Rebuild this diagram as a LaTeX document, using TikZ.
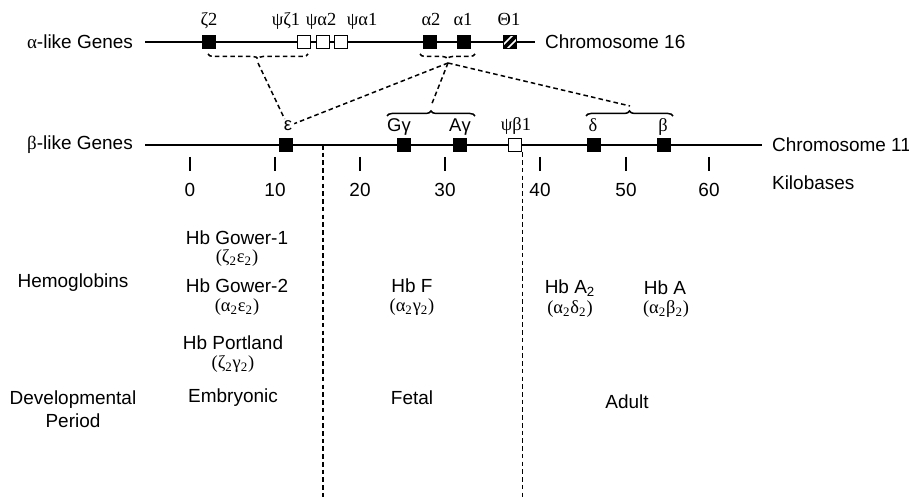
\documentclass[tikz,border=0pt]{standalone}
\usepackage{fontspec}
\setmainfont{Liberation Sans}
\newfontfamily\grk{Liberation Serif}
\usetikzlibrary{calc,decorations.pathreplacing}

\tikzset{
  chrom/.style={line width=1pt},
  genebox/.style={draw,line width=0.7pt,fill=black,minimum size=0.27cm,inner sep=0pt},
  pseudobox/.style={genebox,fill=white},
  genelabel/.style={anchor=base,inner sep=1pt,font=\grk\fontsize{10.5}{12}\selectfont},
  plain/.style={inner sep=1pt,font=\fontsize{10.8}{13}\selectfont},
  formula/.style={inner sep=1pt,font=\grk\fontsize{10.5}{12}\selectfont},
  link/.style={line width=0.85pt,dash pattern=on 2.6pt off 1.8pt},
  bracebelow/.style={link,decorate,decoration={brace,mirror,amplitude=0.1cm}},
  braceabove/.style={line width=0.85pt,decorate,decoration={brace,amplitude=0.1cm}}
}

\begin{document}
\begin{tikzpicture}[x=0.02cm,y=-0.02cm]
    \useasboundingbox (0,0) rectangle (909,499);

    % Cromosoma 16
    \node[plain] (alab) at (80,42) {{\grk α}-like Genes};
    \draw[chrom] (145,42) -- (535,42);
    \node[plain,anchor=west] (c16) at (543,42) {Chromosome 16};
    \foreach \n/\x/\s in {z2/209/genebox, pz1/304/pseudobox, pa2/323/pseudobox,
        pa1/341/pseudobox, a2/430/genebox, a1/464/genebox}{
      \node[\s] (\n) at (\x,42) {};
    }
    \node[genebox,path picture={
        \foreach \s in {-4,4}
          \draw[white,line width=1pt] ($(path picture bounding box.center)+(\s-9,9)$)
            -- ($(path picture bounding box.center)+(\s+9,-9)$);
      }] (t1) at (510,42) {};
    \foreach \n/\x/\t in {z2/209/ζ2, pz1/286/ψζ1, pa2/321/ψα2, pa1/362/ψα1,
        a2/431/α2, a1/463/α1, t1/509/Θ1}{
      \node[genelabel] (l\n) at (\x,26) {\t};
    }

    % Cromosoma 11
    \node[plain] (blab) at (80,145) {{\grk β}-like Genes};
    \draw[chrom] (145,145) -- (762,145);
    \node[plain,anchor=west] (c11) at (770,145) {Chromosome 11};
    \foreach \n/\x/\s in {eps/286/genebox, gg/404/genebox, ag/460/genebox,
        pb1/515/pseudobox, d/594/genebox, b/664/genebox}{
      \node[\s] (\n) at (\x,145) {};
    }
    \node[genelabel,font=\fontsize{10.5}{12}\selectfont] (leps) at (288,131) {ε};
    \node[genelabel,font=\fontsize{10.5}{12}\selectfont] (lgg) at (399,132) {Gγ};
    \node[genelabel,font=\fontsize{10.5}{12}\selectfont] (lag) at (460,132) {Aγ};
    \node[genelabel] (lpb1) at (516,131) {ψβ1};
    \node[genelabel] (ld) at (593,132) {δ};
    \node[genelabel] (lb) at (663,132) {β};

    % escala en kb
    \foreach \x/\k in {190/0,275/10,360/20,445/30,540/40,626/50,709/60}{
      \draw[line width=1pt] (\x,157) -- (\x,171);
      \node[plain] (kb\k) at (\x,190) {\k};
    }
    \node[plain,anchor=west] (kil) at (770,183) {Kilobases};

    % llaves y enlaces
    \draw[bracebelow] (208,54) -- (308,54);
    \coordinate (ztip) at (258,63);
    \draw[bracebelow] (420,54) -- (475,54);
    \coordinate (atip) at (448,63);
    \draw[braceabove] (387,116) -- (475,116);
    \coordinate (gtip) at (431,106);
    \draw[braceabove] (586,116) -- (673,116);
    \coordinate (dtip) at (630,106);

    \draw[link] (ztip) -- (leps);
    \draw[link] (atip) -- (leps);
    \draw[link] (atip) -- (gtip);
    \draw[link] (atip) -- (dtip);

    \coordinate (split) at (323,145);
    \coordinate (bot) at (323,499);
    \draw[link] (split) -- (bot);
    \draw[link] (pb1.south east) -- (pb1.south east |- bot);

    % hemoglobinas
    \node[plain] (hemo) at (73,283) {Hemoglobins};
    \node[plain] (gow1) at (237,238) {Hb Gower-1};
    \node[formula] (fgow1) at (237,258) {(ζ\textsubscript{2}ε\textsubscript{2})};
    \node[plain] (gow2) at (237,286) {Hb Gower-2};
    \node[formula] (fgow2) at (237,307) {(α\textsubscript{2}ε\textsubscript{2})};
    \node[plain] (port) at (233,343) {Hb Portland};
    \node[formula] (fport) at (233,364) {(ζ\textsubscript{2}γ\textsubscript{2})};
    \node[plain] (hbf) at (412,286) {Hb F};
    \node[formula] (fhbf) at (412,307) {(α\textsubscript{2}γ\textsubscript{2})};
    \node[plain] (hba2) at (570,288) {Hb A\textsubscript{2}};
    \node[formula] (fhba2) at (570,309) {(α\textsubscript{2}δ\textsubscript{2})};
    \node[plain] (hba) at (665,288) {Hb A};
    \node[formula] (fhba) at (666,309) {(α\textsubscript{2}β\textsubscript{2})};

    % periodos
    \node[plain,align=center] (dev) at (73,409) {Developmental\\Period};
    \node[plain] (emb) at (233,398) {Embryonic};
    \node[plain] (fet) at (412,398) {Fetal};
    \node[plain] (adu) at (627,402) {Adult};

  \end{tikzpicture}
\end{document}
